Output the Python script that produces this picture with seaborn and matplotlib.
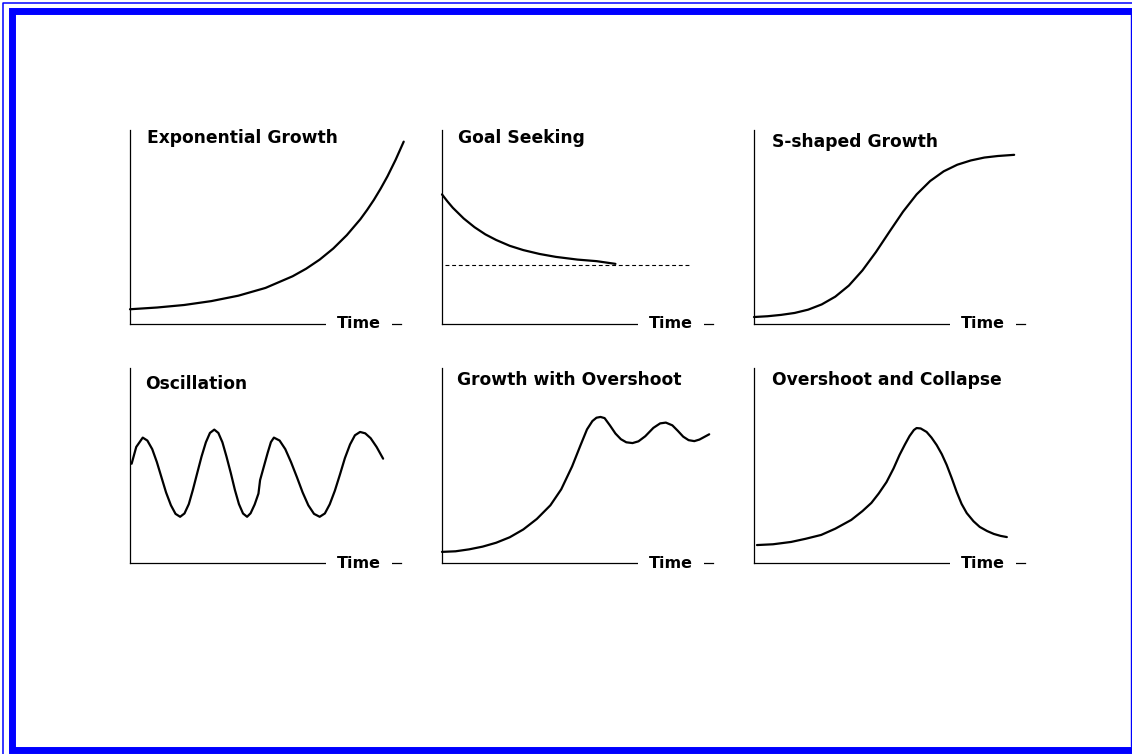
import numpy as np
import pandas as pd
import seaborn as sns
import matplotlib.pyplot as plt

sns.set_theme(style="white")
plt.rcParams['font.family'] = ['DejaVu Sans']
plt.rcParams['text.color'] = 'black'

# --- data (time 0-100, value 0-100 of each panel) ---
exp_t = [0, 10, 20, 30, 40, 50, 60, 65, 70, 75, 80, 85, 87.5, 90, 92.5, 95, 98, 101]
exp_v = [7.6, 8.5, 9.8, 11.8, 14.6, 18.6, 24.6, 28.5, 33.2, 38.9, 45.8, 54.0, 58.8,
         64.0, 69.8, 76.1, 84.6, 94.0]

goal_t = [0, 1, 2, 4, 8, 12, 16, 20, 25, 30, 36, 42, 50, 57, 64]
goal_v = [66.8, 65.0, 63.2, 59.9, 54.4, 49.9, 46.2, 43.3, 40.3, 38.1, 36.1, 34.6,
          33.2, 32.4, 31.0]
goal_level = 30.6
goal_span = [1.1, 91]

s_t = [0, 5, 10, 15, 20, 25, 30, 35, 40, 45, 50, 55, 60, 65, 70, 75, 80, 85, 90, 96]
s_v = [3.6, 4.0, 4.7, 5.7, 7.4, 10.1, 14.1, 19.8, 27.6, 37.1, 47.6, 57.9, 66.8,
       73.7, 78.7, 82.1, 84.3, 85.8, 86.6, 87.2]

osc_t = [0.6, 2.3, 4.7, 6.4, 8.2, 9.9, 11.6, 13.3, 15.1, 16.8, 18.5, 20.1, 21.7,
         23.2, 24.8, 26.4, 28.0, 29.5, 31.1, 32.6, 34.1, 35.6, 37.2, 38.7, 40.2,
         41.7, 43.2, 44.5, 46.0, 47.4, 48.0, 49.3, 50.8, 52.0, 53.1, 55.2, 57.3,
         59.4, 61.6, 63.7, 65.8, 67.9, 70.0, 71.9, 73.7, 75.6, 77.5, 79.3, 81.2,
         83.0, 84.9, 86.8, 88.8, 91.0, 93.4]
osc_v = [50.9, 59.5, 64.3, 62.8, 58.4, 51.8, 44.0, 36.2, 29.6, 25.2, 23.7, 25.4,
         30.2, 37.5, 46.1, 54.6, 61.9, 66.7, 68.4, 66.7, 61.9, 54.6, 46.1, 37.5,
         30.2, 25.4, 23.7, 25.5, 30.0, 35.6, 42.5, 49.0, 56.5, 62.0, 64.3, 62.8,
         58.4, 51.8, 44.0, 36.2, 29.6, 25.2, 23.7, 25.4, 30.1, 37.1, 45.5, 53.8,
         60.8, 65.5, 67.2, 66.5, 64.0, 59.5, 53.5]

over_t = [0, 5, 10, 15, 20, 25, 30, 35, 40, 44, 48, 51, 53.5, 55.5, 57, 58.5, 60,
          62, 64, 66, 68, 70.3, 72.5, 75, 78, 80.5, 82.6, 85, 87, 89, 91, 93.1,
          95, 97, 98.6]
over_v = [5.7, 6.0, 7.0, 8.4, 10.4, 13.2, 17.2, 22.6, 29.6, 37.8, 49.5, 60.0, 68.5,
          72.8, 74.5, 74.9, 74.3, 70.5, 66.4, 63.5, 61.9, 61.5, 62.4, 65.0, 69.3,
          71.6, 72.0, 70.6, 67.8, 64.8, 63.0, 62.5, 63.3, 64.8, 66.0]

coll_t = [1.1, 7, 13.7, 19, 24.8, 30, 35.9, 40, 43.3, 46, 48.9, 51.5, 53.7, 55.7,
          57.4, 59, 60.0, 61.5, 63.7, 65.5, 67.4, 69.3, 71.1, 73, 74.8, 76.6, 78.5,
          81, 83.3, 86, 88.5, 91, 93.3]
coll_v = [9.2, 9.6, 10.8, 12.4, 14.4, 17.6, 22.1, 26.6, 30.8, 35.6, 41.5, 48.5, 55.4,
          60.8, 65.1, 68.2, 69.2, 69.0, 67.2, 64.3, 60.5, 55.8, 50.3, 43.4, 36.4,
          30.3, 25.6, 21.4, 18.5, 16.4, 14.9, 13.9, 13.3]

titles = ["Exponential Growth", "Goal Seeking", "S-shaped Growth",
          "Oscillation", "Growth with Overshoot", "Overshoot and Collapse"]
series = [(exp_t, exp_v), (goal_t, goal_v), (s_t, s_v),
          (osc_t, osc_v), (over_t, over_v), (coll_t, coll_v)]
x_label = "Time"

# layout in pixels
W, H = 1132, 754
col_left = [130, 442, 754]
col_width = 271
row_top = [130, 368]
row_bottom = [324, 563]
title_left = [147, 458, 772, 145, 457, 772]
title_base = [143, 143, 147, 389, 385, 385]

fig = plt.figure(figsize=(W / 100, H / 100), dpi=100)
fig.patch.set_facecolor("white")

# blue frame
bg = fig.add_axes([0, 0, 1, 1])
bg.set_xlim(0, W)
bg.set_ylim(H, 0)
bg.axis("off")
bg.plot([2.5, 2.5, W + 10], [H + 10, 2.5, 2.5], color="#0000ff", lw=1.1,
        clip_on=False)
bg.plot([W + 10, 11.5, 11.5, W + 10], [10.5, 10.5, 749.5, 749.5], color="#0000ff",
        lw=5.0, solid_joinstyle="miter", clip_on=False)
bg.plot([1130.5, 1130.5], [14, 746], color="#0000ff", lw=1.0)

for i, (title, (t, v)) in enumerate(zip(titles, series)):
    r, c = divmod(i, 3)
    left, top, bottom = col_left[c], row_top[r], row_bottom[r]
    ax = fig.add_axes([left / W, 1 - bottom / H, col_width / W, (bottom - top) / H])
    ax.set_facecolor("none")
    ax.set_xlim(0, 100)
    ax.set_ylim(0, 100)

    df = pd.DataFrame({"t": t, "v": v})
    sns.lineplot(data=df, x="t", y="v", ax=ax, color="black", lw=1.6,
                 clip_on=False, solid_joinstyle="round", solid_capstyle="round")
    if i == 1:
        ax.plot(goal_span, [goal_level, goal_level], color="black", lw=0.8,
                linestyle=(0, (3.5, 2.5)))

    sns.despine(ax=ax)
    for side in ["left", "bottom"]:
        ax.spines[side].set_color("black")
        ax.spines[side].set_linewidth(0.9)
    ax.set_xticks([])
    ax.set_yticks([])
    ax.set_xlabel("")
    ax.set_ylabel("")

    ax.text(0.845, 0, x_label, transform=ax.transAxes, ha="center",
            va="center", fontsize=11.5, fontweight="bold", color="black",
            zorder=5, clip_on=False,
            bbox=dict(boxstyle="square,pad=0.7", facecolor="white",
                      edgecolor="none"))
    bg.text(title_left[i], title_base[i], title, ha="left", va="baseline",
            fontsize=12.3, fontweight="bold", color="black")

fig.savefig("out.png", dpi=100, facecolor="white")
